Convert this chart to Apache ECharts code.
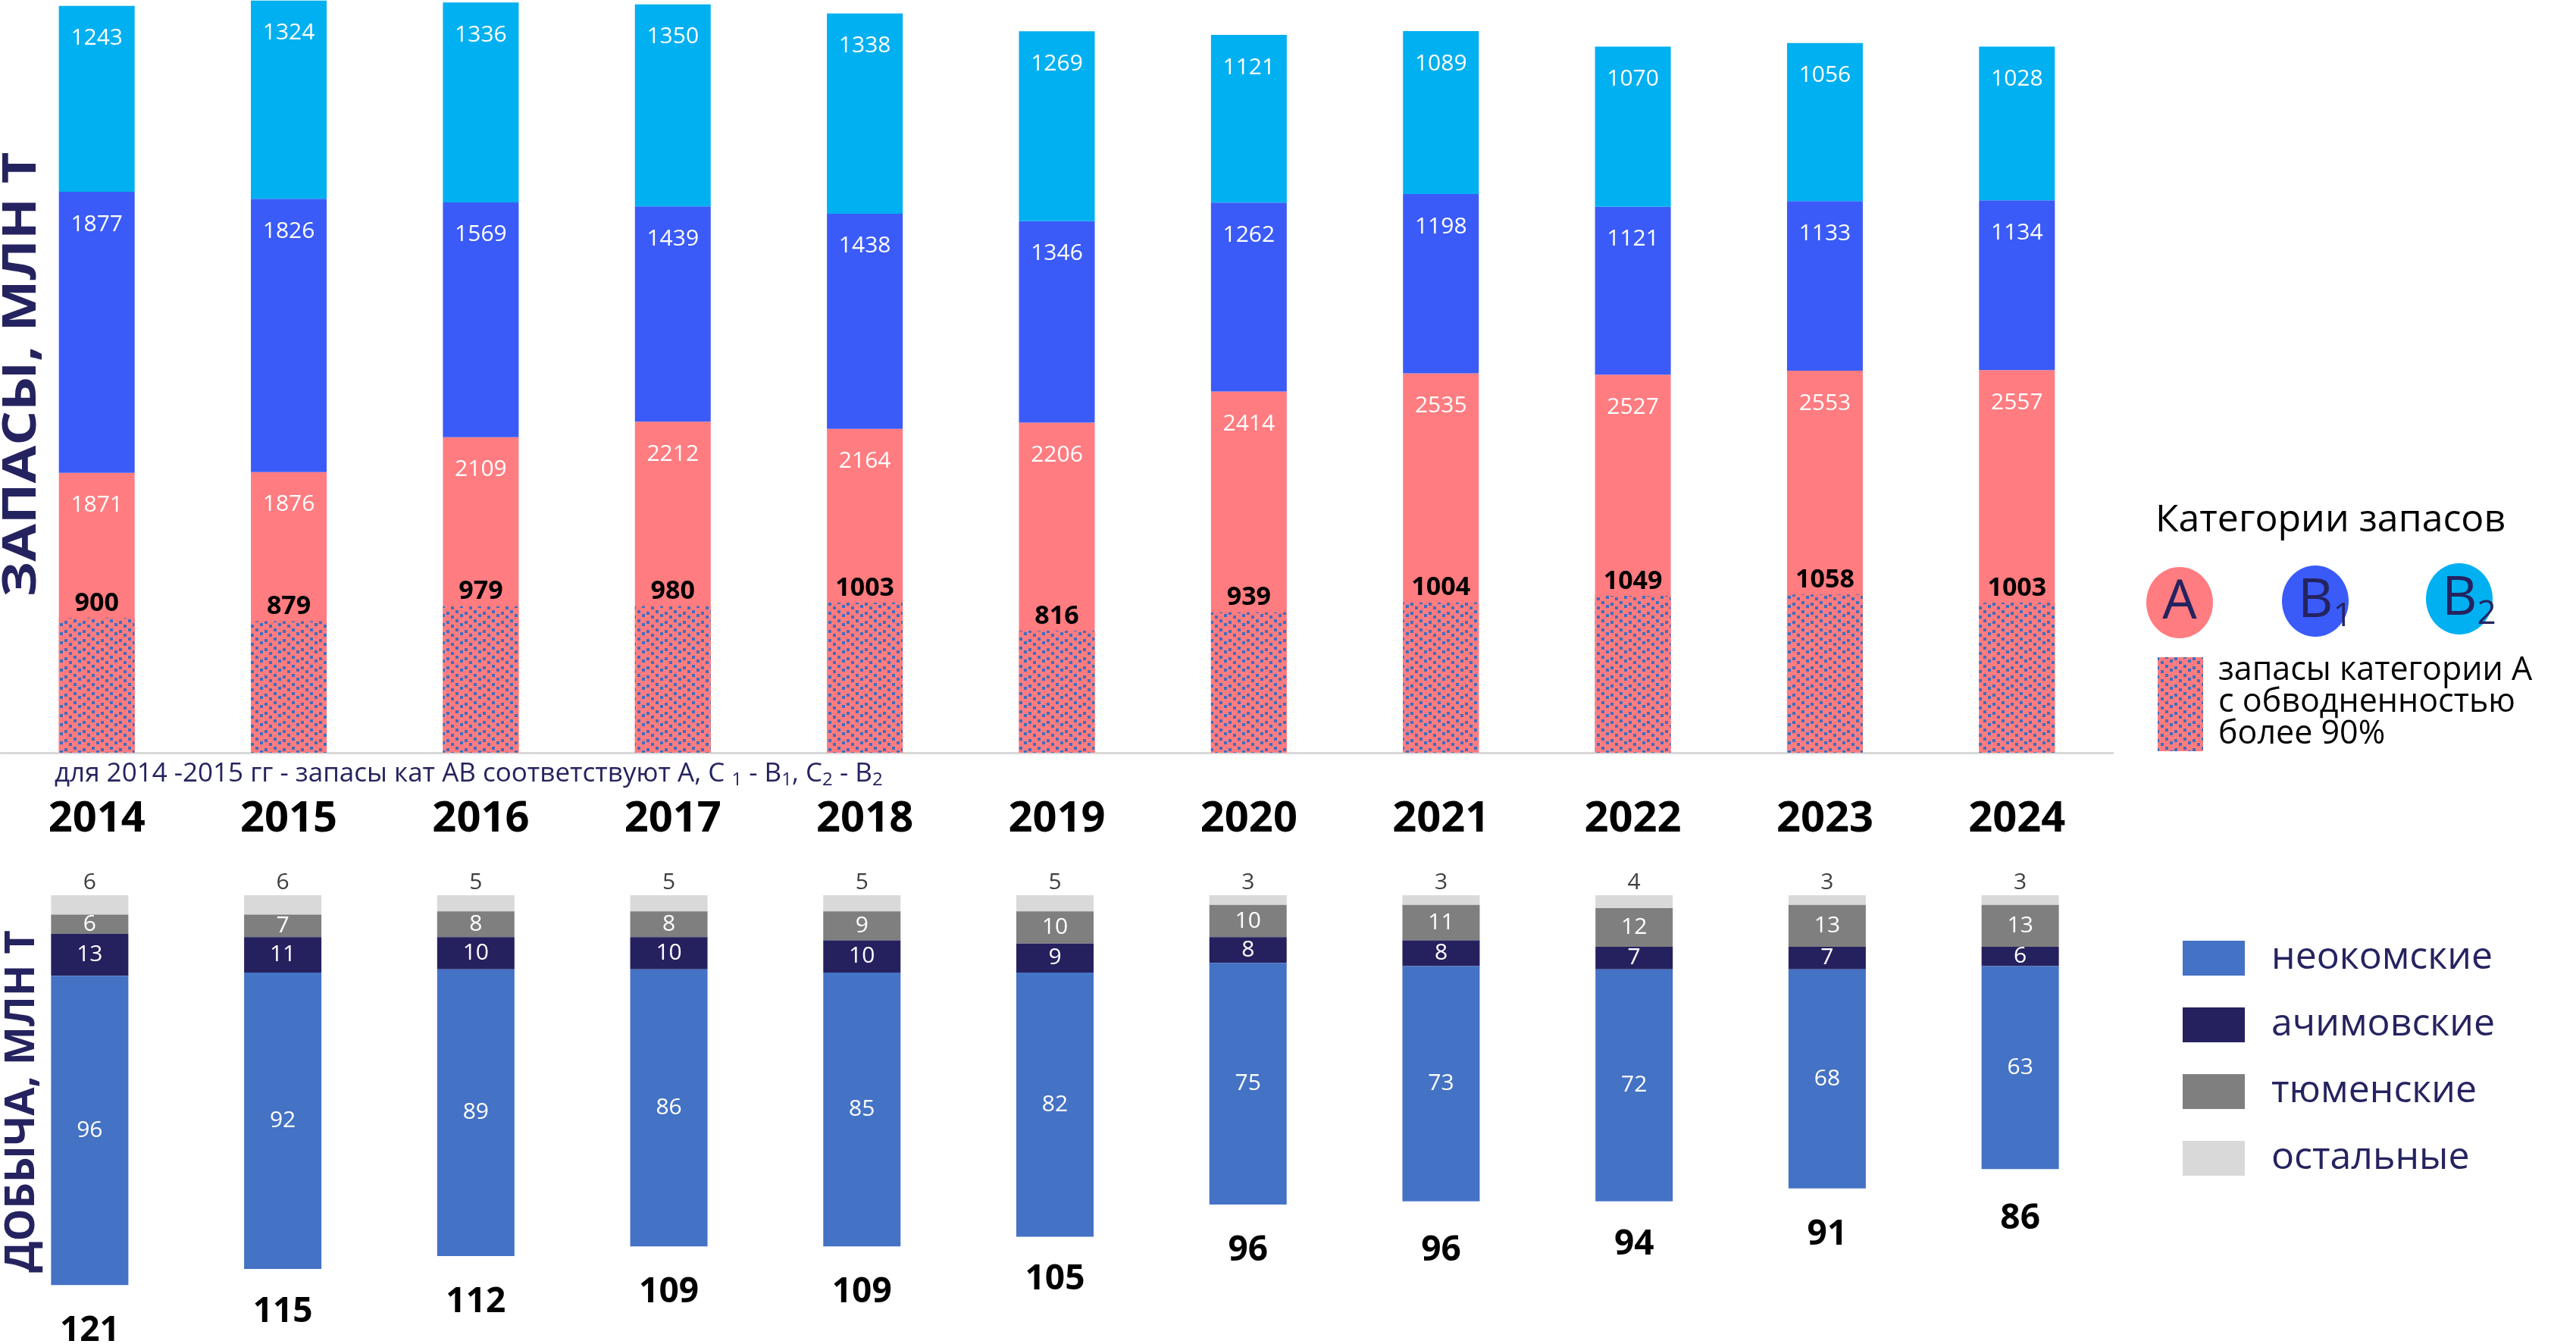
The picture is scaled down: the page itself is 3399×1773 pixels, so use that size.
<!DOCTYPE html>
<html>
<head>
<meta charset="utf-8">
<title>Запасы и добыча</title>
<script src="https://cdn.jsdelivr.net/npm/echarts@6/dist/echarts.min.js"></script>
<style>
  html, body { margin: 0; padding: 0; background: #fff; }
  #chart { width: 3399px; height: 1773px; }
</style>
</head>
<body>
<div id="chart"></div>
<script>
// годы
var years = ['2014', '2015', '2016', '2017', '2018', '2019', '2020', '2021', '2022', '2023', '2024'];

// запасы, млн т
var reservesA = [1871, 1876, 2109, 2212, 2164, 2206, 2414, 2535, 2527, 2553, 2557];
var reservesB1 = [1877, 1826, 1569, 1439, 1438, 1346, 1262, 1198, 1121, 1133, 1134];
var reservesB2 = [1243, 1324, 1336, 1350, 1338, 1269, 1121, 1089, 1070, 1056, 1028];
// запасы кат. А с обводненностью > 90%
var reservesWetA = [900, 879, 979, 980, 1003, 816, 939, 1004, 1049, 1058, 1003];

// добыча, млн т
var prodNeocom = [96, 92, 89, 86, 85, 82, 75, 73, 72, 68, 63];
var prodAchim = [13, 11, 10, 10, 10, 9, 8, 8, 7, 7, 6];
var prodTyumen = [6, 7, 8, 8, 9, 10, 10, 11, 12, 13, 13];
var prodOther = [6, 6, 5, 5, 5, 5, 3, 3, 4, 3, 3];
var prodTotal = [121, 115, 112, 109, 109, 105, 96, 96, 94, 91, 86];

var NAVY = '#25235F';
var PINK = '#FF7C80';

function makePattern() {
    var c = document.createElement('canvas');
    c.width = 24;
    c.height = 12;
    var ctx = c.getContext('2d');
    ctx.fillStyle = PINK;
    ctx.fillRect(0, 0, 24, 12);
    ctx.fillStyle = '#3F6EBE';
    [[1, 1], [7, 6], [13, 3], [19, 8]].forEach(function (p) {
        ctx.fillRect(p[0], p[1], 4, 4);
    });
    return c;
}
var pattern = { image: makePattern(), repeat: 'repeat' };

var myChart = echarts.init(document.getElementById('chart'));

var whiteLabel = { show: true, color: '#fff', fontSize: 30, fontFamily: 'Open Sans' };

var option = {
    animation: false,
    backgroundColor: '#fff',
    grid: [
        { left: 1, top: 0, width: 2787, height: 993, outerBoundsMode: 'none' },
        { left: -9, top: 1181, width: 2802, height: 552.5, outerBoundsMode: 'none' }
    ],
    xAxis: [
        {
            gridIndex: 0, type: 'category', data: years,
            axisLine: { lineStyle: { color: '#D9D9D9', width: 3 } },
            axisTick: { show: false },
            axisLabel: { margin: 60, fontSize: 56, fontWeight: 'bold', color: '#000', fontFamily: 'Open Sans' }
        },
        { gridIndex: 1, type: 'category', data: years, show: false }
    ],
    yAxis: [
        { gridIndex: 0, type: 'value', min: 0, max: 5030, show: false },
        { gridIndex: 1, type: 'value', min: 0, max: 130, inverse: true, show: false }
    ],
    legend: {
        data: ['неокомские', 'ачимовские', 'тюменские', 'остальные'],
        orient: 'vertical', left: 2875, top: 1234,
        icon: 'rect', itemWidth: 82, itemHeight: 46, itemGap: 38,
        selectedMode: false,
        textStyle: { fontSize: 50, color: NAVY, fontFamily: 'Open Sans', padding: [0, 0, 0, 30] }
    },
    series: [
        {
            name: 'A', type: 'bar', stack: 'res', xAxisIndex: 0, yAxisIndex: 0,
            barWidth: 100, barGap: '-100%', data: reservesA,
            itemStyle: { color: PINK },
            label: Object.assign({ position: 'insideTop', distance: 28 }, whiteLabel)
        },
        {
            name: 'B1', type: 'bar', stack: 'res', xAxisIndex: 0, yAxisIndex: 0,
            barWidth: 100, barGap: '-100%', data: reservesB1,
            itemStyle: { color: '#3A5BF8' },
            label: Object.assign({ position: 'insideTop', distance: 28 }, whiteLabel)
        },
        {
            name: 'B2', type: 'bar', stack: 'res', xAxisIndex: 0, yAxisIndex: 0,
            barWidth: 100, barGap: '-100%', data: reservesB2,
            itemStyle: { color: '#00B0F0' },
            label: Object.assign({ position: 'insideTop', distance: 28 }, whiteLabel)
        },
        {
            name: 'A обводн.', type: 'bar', stack: 'wet', xAxisIndex: 0, yAxisIndex: 0,
            barWidth: 100, barGap: '-100%', data: reservesWetA,
            itemStyle: { color: pattern },
            label: { show: true, position: 'top', distance: 2, color: '#000', fontSize: 34, fontWeight: 'bold', fontFamily: 'Open Sans' }
        },
        // добыча (ось перевернута, бары свисают вниз)
        {
            name: 'остальные', type: 'bar', stack: 'prod', xAxisIndex: 1, yAxisIndex: 1,
            barWidth: 102, barGap: '-100%', data: prodOther,
            itemStyle: { color: '#D9D9D9' },
            label: { show: true, position: 'top', distance: 2, color: '#404040', fontSize: 30, fontFamily: 'Open Sans' }
        },
        {
            name: 'тюменские', type: 'bar', stack: 'prod', xAxisIndex: 1, yAxisIndex: 1,
            barWidth: 102, barGap: '-100%', data: prodTyumen,
            itemStyle: { color: '#7F7F7F' },
            label: Object.assign({ position: 'inside' }, whiteLabel)
        },
        {
            name: 'ачимовские', type: 'bar', stack: 'prod', xAxisIndex: 1, yAxisIndex: 1,
            barWidth: 102, barGap: '-100%', data: prodAchim,
            itemStyle: { color: '#25215F' },
            label: Object.assign({ position: 'inside' }, whiteLabel)
        },
        {
            name: 'неокомские', type: 'bar', stack: 'prod', xAxisIndex: 1, yAxisIndex: 1,
            barWidth: 102, barGap: '-100%', data: prodNeocom,
            itemStyle: { color: '#4472C4' },
            label: Object.assign({ position: 'inside' }, whiteLabel)
        },
        {
            name: 'всего', type: 'bar', stack: 'total', xAxisIndex: 1, yAxisIndex: 1,
            barWidth: 102, barGap: '-100%', data: prodTotal,
            itemStyle: { color: 'rgba(0,0,0,0)' },
            label: { show: true, position: 'bottom', distance: 38, color: '#000', fontSize: 46, fontWeight: 'bold', fontFamily: 'Open Sans' }
        }
    ],
    graphic: [
        // подписи осей
        {
            type: 'text', x: 30, y: 494, rotation: Math.PI / 2, scaleX: 1.2,
            style: { text: 'ЗАПАСЫ, МЛН Т', fontSize: 60, fontWeight: 'bold', fontFamily: 'Open Sans', fill: NAVY, align: 'center', verticalAlign: 'middle' }
        },
        {
            type: 'text', x: 30, y: 1453, rotation: Math.PI / 2,
            style: { text: 'ДОБЫЧА, МЛН Т', fontSize: 54, fontWeight: 'bold', fontFamily: 'Open Sans', fill: NAVY, align: 'center', verticalAlign: 'middle' }
        },
        // примечание
        {
            type: 'text', x: 72, y: 1021,
            style: {
                text: 'для 2014 -2015 гг - запасы кат АВ соответствуют А, С {s|1} - B{s|1}, C{s|2} - B{s|2}',
                fontSize: 35, fontFamily: 'Open Sans', fill: NAVY, align: 'left', verticalAlign: 'middle',
                rich: { s: { fontSize: 24, fontFamily: 'Open Sans', fill: NAVY, verticalAlign: 'bottom', padding: [16, 0, 0, 0] } }
            }
        },
        // легенда категорий запасов
        {
            type: 'text', x: 2844, y: 687,
            style: { text: 'Категории запасов', fontSize: 50, fontFamily: 'Open Sans', fill: '#000', verticalAlign: 'middle' }
        },
        { type: 'ellipse', shape: { cx: 2876, cy: 795, rx: 44, ry: 47 }, style: { fill: PINK } },
        { type: 'ellipse', shape: { cx: 3055, cy: 793, rx: 44, ry: 47 }, style: { fill: '#3A5BF8' } },
        { type: 'ellipse', shape: { cx: 3245, cy: 790, rx: 44, ry: 47 }, style: { fill: '#00B0F0' } },
        {
            type: 'text', x: 2876, y: 795,
            style: { text: 'A', fontSize: 72, fontFamily: 'Open Sans', fill: NAVY, align: 'center', verticalAlign: 'middle' }
        },
        {
            type: 'text', x: 3032, y: 793,
            style: {
                text: 'B{s|1}', fontSize: 72, fontFamily: 'Open Sans', fill: NAVY, verticalAlign: 'middle',
                rich: { s: { fontSize: 44, fontFamily: 'Open Sans', fill: NAVY, verticalAlign: 'bottom', padding: [40, 0, 0, 0] } }
            }
        },
        {
            type: 'text', x: 3222, y: 790,
            style: {
                text: 'B{s|2}', fontSize: 72, fontFamily: 'Open Sans', fill: NAVY, verticalAlign: 'middle',
                rich: { s: { fontSize: 44, fontFamily: 'Open Sans', fill: NAVY, verticalAlign: 'bottom', padding: [40, 0, 0, 0] } }
            }
        },
        { type: 'rect', shape: { x: 2847, y: 867, width: 60, height: 124 }, style: { fill: pattern } },
        {
            type: 'text', x: 2927, y: 864,
            style: { text: 'запасы категории А\nс обводненностью\nболее 90%', fontSize: 43, lineHeight: 42, fontFamily: 'Open Sans', fill: '#000' }
        }
    ]
};

myChart.setOption(option);
</script>
</body>
</html>
